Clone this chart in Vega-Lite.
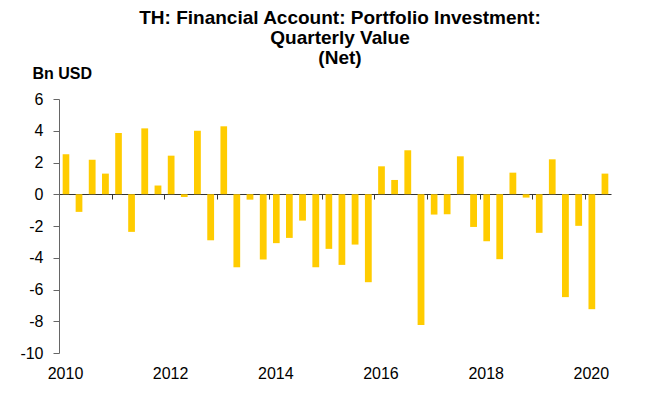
{
  "$schema": "https://vega.github.io/schema/vega-lite/v6.json",
  "autosize": "none",
  "width": 552,
  "height": 254,
  "padding": {"left": 59, "top": 99, "right": 35, "bottom": 51},
  "background": "white",
  "config": {
    "font": "Liberation Sans",
    "view": {"stroke": null}
  },
  "title": {
    "text": ["TH: Financial Account: Portfolio Investment:", "Quarterly Value", "(Net)"],
    "font": "Liberation Sans",
    "fontSize": 19,
    "fontWeight": "bold",
    "color": "black",
    "anchor": "middle",
    "lineHeight": 20,
    "offset": 0,
    "dy": 22,
    "dx": 5,
    "baseline": "bottom"
  },
  "data": {
    "values": [
      {"date": "2010-01-01", "value": 2.52},
      {"date": "2010-04-01", "value": -1.11},
      {"date": "2010-07-01", "value": 2.18},
      {"date": "2010-10-01", "value": 1.30},
      {"date": "2011-01-01", "value": 3.86},
      {"date": "2011-04-01", "value": -2.37},
      {"date": "2011-07-01", "value": 4.15},
      {"date": "2011-10-01", "value": 0.55},
      {"date": "2012-01-01", "value": 2.43},
      {"date": "2012-04-01", "value": -0.17},
      {"date": "2012-07-01", "value": 4.0},
      {"date": "2012-10-01", "value": -2.9},
      {"date": "2013-01-01", "value": 4.28},
      {"date": "2013-04-01", "value": -4.6},
      {"date": "2013-07-01", "value": -0.34},
      {"date": "2013-10-01", "value": -4.11},
      {"date": "2014-01-01", "value": -3.08},
      {"date": "2014-04-01", "value": -2.75},
      {"date": "2014-07-01", "value": -1.66},
      {"date": "2014-10-01", "value": -4.6},
      {"date": "2015-01-01", "value": -3.44},
      {"date": "2015-04-01", "value": -4.45},
      {"date": "2015-07-01", "value": -3.17},
      {"date": "2015-10-01", "value": -5.54},
      {"date": "2016-01-01", "value": 1.76},
      {"date": "2016-04-01", "value": 0.9},
      {"date": "2016-07-01", "value": 2.77},
      {"date": "2016-10-01", "value": -8.24},
      {"date": "2017-01-01", "value": -1.28},
      {"date": "2017-04-01", "value": -1.26},
      {"date": "2017-07-01", "value": 2.39},
      {"date": "2017-10-01", "value": -2.06},
      {"date": "2018-01-01", "value": -2.96},
      {"date": "2018-04-01", "value": -4.09},
      {"date": "2018-07-01", "value": 1.36},
      {"date": "2018-10-01", "value": -0.21},
      {"date": "2019-01-01", "value": -2.43},
      {"date": "2019-04-01", "value": 2.2},
      {"date": "2019-07-01", "value": -6.48},
      {"date": "2019-10-01", "value": -1.99},
      {"date": "2020-01-01", "value": -7.24},
      {"date": "2020-04-01", "value": 1.30}
    ]
  },
  "mark": {"type": "bar", "color": "#FFCC00", "width": {"band": 0.59}},
  "encoding": {
    "x": {
      "field": "date",
      "type": "temporal",
      "timeUnit": "yearquarter",
      "scale": {"domain": ["2010-01-01", "2020-07-01"]},
      "axis": {
        "title": null,
        "offset": -159,
        "values": ["2010-01-01", "2011-01-01", "2012-01-01", "2013-01-01", "2014-01-01", "2015-01-01", "2016-01-01", "2017-01-01", "2018-01-01", "2019-01-01", "2020-01-01"],
        "labelExpr": "year(datum.value) % 2 == 0 ? timeFormat(datum.value, '%Y') : ''",
        "grid": false,
        "domainColor": "#333333",
        "domainWidth": 1.2,
        "tickColor": "#333333",
        "tickSize": 5,
        "labelFont": "Liberation Sans",
        "labelFontSize": 16,
        "labelColor": "black",
        "labelPadding": 166,
        "labelOffset": 6,
        "labelBaseline": "top",
        "labelFlush": false,
        "labelOverlap": false
      }
    },
    "y": {
      "field": "value",
      "type": "quantitative",
      "scale": {"domain": [-10, 6], "nice": false},
      "axis": {
        "values": [-10, -8, -6, -4, -2, 0, 2, 4, 6],
        "labelExpr": "'' + datum.value",
        "grid": false,
        "title": "Bn USD",
        "titleAngle": 0,
        "titleAlign": "left",
        "titleBaseline": "alphabetic",
        "titleX": -27,
        "titleY": -21,
        "titleFont": "Liberation Sans",
        "titleFontSize": 16,
        "titleFontWeight": "bold",
        "titleColor": "black",
        "domainColor": "#666666",
        "tickColor": "#666666",
        "tickSize": 6,
        "labelFont": "Liberation Sans",
        "labelFontSize": 16,
        "labelColor": "black",
        "labelPadding": 10
      }
    }
  }
}
